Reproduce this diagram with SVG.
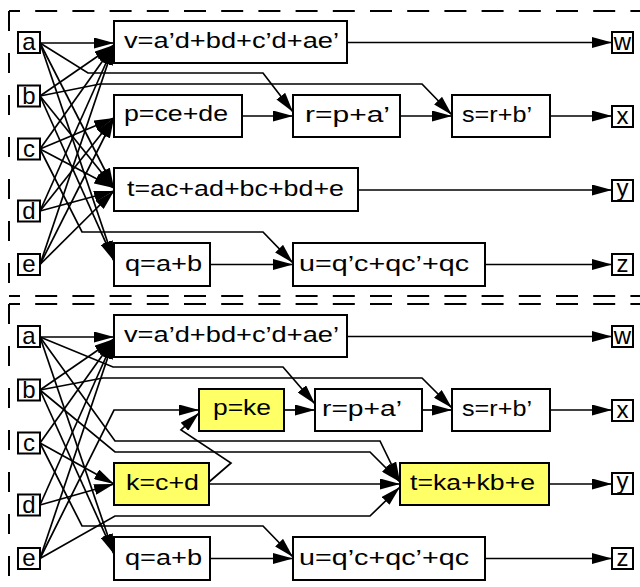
<svg xmlns="http://www.w3.org/2000/svg" width="640" height="587" viewBox="0 0 640 587">
  <defs>
    <marker id="arrow" markerUnits="userSpaceOnUse" viewBox="0 0 20 11" markerWidth="20" markerHeight="11" refX="20" refY="5.5" orient="auto">
      <path d="M0,0 L20,5.5 L0,11 z" fill="#000"/>
    </marker>
    <style>
      .frame{fill:none;stroke:#000;stroke-width:2}
      .hdash{stroke-dasharray:22 15.2;stroke-dashoffset:11}
      .vdash{stroke-dasharray:20 22}
      .box{fill:#fff;stroke:#000;stroke-width:2}
      .hl{fill:#ffff66}
      .lbl{font-family:"Liberation Sans",Arial,Helvetica,sans-serif;font-size:22px;fill:#000}
      .pin{font-family:"Liberation Sans",Arial,Helvetica,sans-serif;font-size:24px;fill:#000;text-anchor:middle}
      .wire{fill:none;stroke:#000;stroke-width:1.7;marker-end:url(#arrow)}
    </style>
  </defs>

  <rect x="0" y="0" width="640" height="587" fill="#fff"/>

  <!-- dashed panel frames -->
  <g id="frames" class="frame">
    <path class="hdash" d="M9,11 H640"/>
    <path class="vdash" d="M9,11 V296"/>
    <path class="hdash" d="M9,296 H640"/>
    <path class="hdash" d="M9,304 H640"/>
    <path class="vdash" d="M9,304 V587"/>
  </g>

  <!-- connectors -->
  <g id="connectors">
    <!-- upper network -->
    <path class="wire" d="M40,43 H114"/>
    <path class="wire" d="M40,96 L114,45"/>
    <path class="wire" d="M40,149 L114,45"/>
    <path class="wire" d="M40,211 L114,45"/>
    <path class="wire" d="M40,264.5 L114,45"/>
    <path class="wire" d="M40,149 L114,118"/>
    <path class="wire" d="M40,211 L114,118"/>
    <path class="wire" d="M40,264.5 L114,118"/>
    <path class="wire" d="M40,43 L114,188"/>
    <path class="wire" d="M40,96 L114,188"/>
    <path class="wire" d="M40,149 L114,188"/>
    <path class="wire" d="M40,211 L114,191"/>
    <path class="wire" d="M40,264.5 L114,191"/>
    <path class="wire" d="M40,43 L114,261"/>
    <path class="wire" d="M40,96 L114,261"/>
    <path class="wire" d="M40,43 L88,73 H263 L293,112"/>
    <path class="wire" d="M40,96 L100,84 H422 L452,115"/>
    <path class="wire" d="M40,149 L82,232 H263 L293,263"/>
    <path class="wire" d="M242,116 H293"/>
    <path class="wire" d="M400,116 H452"/>
    <path class="wire" d="M550,116 H612"/>
    <path class="wire" d="M358,190 H612"/>
    <path class="wire" d="M210,264.5 H293"/>
    <path class="wire" d="M485,264.5 H612"/>
    <path class="wire" d="M347,42.5 H612"/>

    <!-- lower network -->
    <path class="wire" d="M40,337 H114"/>
    <path class="wire" d="M40,390 L114,339"/>
    <path class="wire" d="M40,443 L114,339"/>
    <path class="wire" d="M40,505 L114,339"/>
    <path class="wire" d="M40,558.5 L114,339"/>
    <path class="wire" d="M40,337 L113,367 H283 L315,404"/>
    <path class="wire" d="M40,390 L103,378 H422 L452,408"/>
    <path class="wire" d="M40,337 L115,441 H380 L400,482"/>
    <path class="wire" d="M40,390 L115,452 H370 L400,482"/>
    <path class="wire" d="M40,558.5 L115,516 H370 L400,487"/>
    <path class="wire" d="M209,484 H400"/>
    <path class="wire" d="M40,443 L114,484"/>
    <path class="wire" d="M40,505 L114,484"/>
    <path class="wire" d="M40,558.5 L114,410 H199"/>
    <path class="wire" d="M209,482 L231,463 L181,430 L199,413"/>
    <path class="wire" d="M40,337 L114,554"/>
    <path class="wire" d="M40,390 L114,554"/>
    <path class="wire" d="M40,443 L82,526 H263 L293,557"/>
    <path class="wire" d="M210,558.5 H293"/>
    <path class="wire" d="M284,410 H315"/>
    <path class="wire" d="M422,410 H452"/>
    <path class="wire" d="M550,410 H612"/>
    <path class="wire" d="M549,484 H612"/>
    <path class="wire" d="M485,558.5 H612"/>
    <path class="wire" d="M347,336.5 H612"/>
  </g>

  <!-- upper network: primary inputs -->
  <g id="n1-a"><rect class="box" x="18" y="32" width="22" height="21"/><text class="pin" x="29" y="50">a</text></g>
  <g id="n1-b"><rect class="box" x="18" y="85.5" width="22" height="21"/><text class="pin" x="29" y="103.5">b</text></g>
  <g id="n1-c"><rect class="box" x="18" y="138.5" width="22" height="21"/><text class="pin" x="29" y="156.5">c</text></g>
  <g id="n1-d"><rect class="box" x="18" y="200.5" width="22" height="21"/><text class="pin" x="29" y="218.5">d</text></g>
  <g id="n1-e"><rect class="box" x="18" y="254" width="22" height="21"/><text class="pin" x="29" y="272">e</text></g>

  <!-- upper network: logic nodes -->
  <g id="n1-v"><rect class="box" x="114" y="21" width="233" height="42"/><text class="lbl" x="124" y="48" textLength="215" lengthAdjust="spacingAndGlyphs">v=a’d+bd+c’d+ae’</text></g>
  <g id="n1-p"><rect class="box" x="114" y="95" width="128" height="42"/><text class="lbl" x="124" y="120.5" textLength="104" lengthAdjust="spacingAndGlyphs">p=ce+de</text></g>
  <g id="n1-r"><rect class="box" x="293" y="95" width="107" height="42"/><text class="lbl" x="305" y="122" textLength="85" lengthAdjust="spacingAndGlyphs">r=p+a’</text></g>
  <g id="n1-s"><rect class="box" x="452" y="95" width="98" height="42"/><text class="lbl" x="462" y="122" textLength="70" lengthAdjust="spacingAndGlyphs">s=r+b’</text></g>
  <g id="n1-t"><rect class="box" x="114" y="168" width="244" height="43"/><text class="lbl" x="127" y="196" textLength="217" lengthAdjust="spacingAndGlyphs">t=ac+ad+bc+bd+e</text></g>
  <g id="n1-q"><rect class="box" x="114" y="243" width="96" height="43"/><text class="lbl" x="125" y="271" textLength="77" lengthAdjust="spacingAndGlyphs">q=a+b</text></g>
  <g id="n1-u"><rect class="box" x="293" y="243" width="192" height="43"/><text class="lbl" x="299" y="271" textLength="170" lengthAdjust="spacingAndGlyphs">u=q’c+qc’+qc</text></g>

  <!-- upper network: primary outputs -->
  <g id="n1-w"><rect class="box" x="612" y="32" width="21" height="21"/><text class="pin" x="622.5" y="49.5">w</text></g>
  <g id="n1-x"><rect class="box" x="612" y="106" width="21" height="21"/><text class="pin" x="622.5" y="123.5">x</text></g>
  <g id="n1-y"><rect class="box" x="612" y="180" width="21" height="21"/><text class="pin" x="622.5" y="196">y</text></g>
  <g id="n1-z"><rect class="box" x="612" y="254" width="21" height="21"/><text class="pin" x="622.5" y="271.5">z</text></g>

  <!-- lower network: primary inputs -->
  <g id="n2-a"><rect class="box" x="18" y="326" width="22" height="21"/><text class="pin" x="29" y="344">a</text></g>
  <g id="n2-b"><rect class="box" x="18" y="379.5" width="22" height="21"/><text class="pin" x="29" y="397.5">b</text></g>
  <g id="n2-c"><rect class="box" x="18" y="432.5" width="22" height="21"/><text class="pin" x="29" y="450.5">c</text></g>
  <g id="n2-d"><rect class="box" x="18" y="494.5" width="22" height="21"/><text class="pin" x="29" y="512.5">d</text></g>
  <g id="n2-e"><rect class="box" x="18" y="548" width="22" height="21"/><text class="pin" x="29" y="566">e</text></g>

  <!-- lower network: logic nodes -->
  <g id="n2-v"><rect class="box" x="114" y="315" width="233" height="42"/><text class="lbl" x="124" y="342" textLength="215" lengthAdjust="spacingAndGlyphs">v=a’d+bd+c’d+ae’</text></g>
  <g id="n2-p"><rect class="box hl" x="199" y="389" width="85" height="42"/><text class="lbl" x="213" y="414.5" textLength="58" lengthAdjust="spacingAndGlyphs">p=ke</text></g>
  <g id="n2-r"><rect class="box" x="315" y="389" width="107" height="42"/><text class="lbl" x="322" y="416" textLength="80" lengthAdjust="spacingAndGlyphs">r=p+a’</text></g>
  <g id="n2-s"><rect class="box" x="452" y="389" width="98" height="42"/><text class="lbl" x="462" y="416" textLength="70" lengthAdjust="spacingAndGlyphs">s=r+b’</text></g>
  <g id="n2-k"><rect class="box hl" x="114" y="463" width="95" height="42"/><text class="lbl" x="126" y="490" textLength="73" lengthAdjust="spacingAndGlyphs">k=c+d</text></g>
  <g id="n2-t"><rect class="box hl" x="400" y="463" width="149" height="42"/><text class="lbl" x="410" y="490" textLength="125" lengthAdjust="spacingAndGlyphs">t=ka+kb+e</text></g>
  <g id="n2-q"><rect class="box" x="114" y="537" width="96" height="43"/><text class="lbl" x="125" y="565" textLength="77" lengthAdjust="spacingAndGlyphs">q=a+b</text></g>
  <g id="n2-u"><rect class="box" x="293" y="537" width="192" height="43"/><text class="lbl" x="299" y="565" textLength="170" lengthAdjust="spacingAndGlyphs">u=q’c+qc’+qc</text></g>

  <!-- lower network: primary outputs -->
  <g id="n2-w"><rect class="box" x="612" y="326" width="21" height="21"/><text class="pin" x="622.5" y="343.5">w</text></g>
  <g id="n2-x"><rect class="box" x="612" y="400" width="21" height="21"/><text class="pin" x="622.5" y="417.5">x</text></g>
  <g id="n2-y"><rect class="box" x="612" y="473" width="21" height="21"/><text class="pin" x="622.5" y="489">y</text></g>
  <g id="n2-z"><rect class="box" x="612" y="548" width="21" height="21"/><text class="pin" x="622.5" y="565.5">z</text></g>
</svg>
